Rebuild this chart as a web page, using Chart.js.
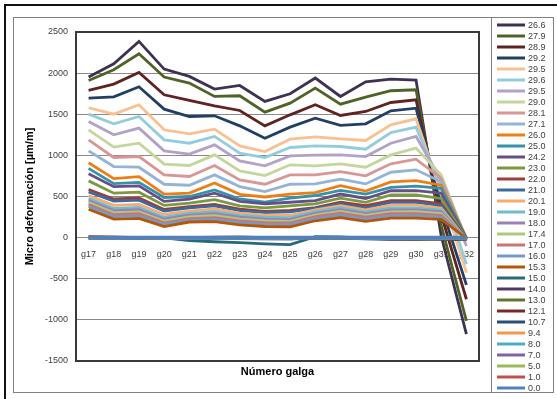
<!DOCTYPE html>
<html>
<head>
<meta charset="utf-8">
<script src="https://cdn.jsdelivr.net/npm/chart.js@4/dist/chart.umd.min.js"></script>
<style>
  html, body { margin: 0; padding: 0; background: #fff; }
  canvas { display: block; }
</style>
</head>
<body>
<canvas id="c" width="557" height="399"></canvas>
<script>
// Strain gauges along the beam
const gauges = ['g17','g18','g19','g20','g21','g22','g23','g24','g25','g26','g27','g28','g29','g30','g31','g32'];

// Load steps (in loading order)
const loads = ['0.0','1.0','5.0','7.0','8.0','9.4','10.7','12.1','13.0','14.0','15.0','15.3','16.0','17.0','17.4','18.0',
               '19.0','20.1','21.0','22.0','23.0','24.2','25.0','26.0','27.1','28.1','29.0','29.5','29.6','29.5','29.2','28.9','27.9','26.6'];

// Micro strain per gauge for each load step
const load0_0  = [0,0,0,0,0,0,0,0,0,0,0,0,0,0,0,0];
const load1_0  = [14,8,0,0,0,6,10,0,-4,0,0,0,0,0,0,-6];
const load5_0  = [4,2,0,-2,-4,-2,0,-3,-5,2,2,-2,-4,-4,-3,-10];
const load7_0  = [2,0,-2,-3,-5,-4,-3,-5,-6,0,0,-4,-6,-7,-5,-12];
const load8_0  = [0,-2,-3,-4,-6,-5,-5,-7,-8,0,-1,-5,-8,-9,-7,-14];
const load9_4  = [0,-2,-3,-5,-7,-6,-6,-8,-9,-1,-2,-6,-9,-11,-8,-16];
const load10_7 = [-2,-3,-4,-6,-8,-8,-8,-10,-11,-2,-3,-8,-12,-13,-10,-18];
const load12_1 = [-2,-4,-5,-6,-9,-9,-10,-11,-12,-3,-4,-10,-14,-16,-12,-20];
const load13_0 = [-3,-4,-5,-7,-10,-10,-11,-12,-14,-4,-5,-12,-16,-18,-14,-22];
const load14_0 = [-3,-5,-6,-8,-11,-12,-12,-14,-15,-5,-6,-14,-20,-22,-16,-25];
const load15_0 = [0,0,0,-3,-35,-50,-60,-75,-85,12,8,-5,-10,-15,-10,-28];
const load15_3 = [345,225,235,135,190,195,155,135,130,205,243,198,237,237,222,-10];
const load16_0 = [378,255,265,160,212,222,182,162,158,232,272,226,268,268,250,-14];
const load17_0 = [402,278,290,180,232,244,204,182,178,254,296,248,292,292,270,-18];
const load17_4 = [428,302,314,202,252,266,226,204,198,274,318,270,314,315,292,-16];
const load18_0 = [452,328,340,225,272,290,248,226,220,294,340,292,338,338,312,-20];
const load19_0 = [478,354,366,248,294,316,270,248,244,316,364,314,362,362,334,-22];
const load20_1 = [512,392,404,282,322,348,298,274,272,338,388,338,394,394,358,-25];
const load21_0 = [555,445,455,322,362,385,328,305,312,355,410,362,428,428,390,-20];
const load22_0 = [585,470,482,342,378,405,345,320,330,364,432,390,450,450,410,-18];
const load23_0 = [690,540,552,392,420,462,385,362,387,410,480,428,518,518,476,-15];
const load24_2 = [778,620,630,440,468,540,440,412,430,450,530,476,570,572,540,-10];
const load25_0 = [842,656,672,488,500,580,470,432,480,512,575,530,612,625,600,-5];
const load26_0 = [910,718,742,530,542,665,526,494,530,548,632,565,677,693,637,0];
const load27_1 = [1055,864,856,649,637,763,621,560,649,653,710,653,795,824,680,-20];
const load28_1 = [1189,974,986,763,743,877,702,649,763,763,803,751,897,954,720,-25];
const load29_0 = [1311,1100,1148,893,877,1006,812,755,885,872,897,856,1006,1088,760,-30];
const load29_5up   = [1412,1250,1331,1055,1015,1128,933,872,994,1002,1006,986,1148,1230,700,-101];
const load29_6     = [1501,1384,1473,1189,1148,1230,1027,974,1096,1116,1108,1075,1278,1343,620,-324];
const load29_5down = [1579,1501,1615,1311,1262,1319,1116,1047,1197,1226,1201,1181,1372,1445,540,-425];
const load29_2 = [1696,1712,1834,1562,1473,1481,1359,1209,1343,1453,1364,1384,1542,1574,380,-575];
const load28_9 = [1790,1867,2009,1737,1668,1603,1546,1359,1493,1615,1485,1534,1643,1676,280,-749];
const load27_9 = [1911,2041,2236,1952,1879,1717,1725,1526,1635,1818,1623,1708,1786,1798,150,-1012];
const load26_6 = [1952,2114,2386,2049,1960,1806,1850,1656,1749,1940,1716,1895,1928,1915,20,-1174];

// Y axis range
const yMin = -1500, yMax = 2500, yStep = 500;

const seriesValues = [load0_0, load1_0, load5_0, load7_0, load8_0, load9_4, load10_7, load12_1, load13_0, load14_0,
  load15_0, load15_3, load16_0, load17_0, load17_4, load18_0, load19_0, load20_1, load21_0, load22_0, load23_0,
  load24_2, load25_0, load26_0, load27_1, load28_1, load29_0, load29_5up, load29_6, load29_5down, load29_2,
  load28_9, load27_9, load26_6];

// Office-style line palette
const palette = ['#4F81BD','#C0504D','#9BBB59','#8064A2','#4BACC6','#F79646',
  '#2C4D75','#772C2A','#5F7530','#4D3B62','#276A7C','#B65708',
  '#729ACA','#CD7371','#AFC97A','#9983B5','#6FBDD1','#F9AB6B',
  '#3B6AA0','#9D3D3A','#7A9A3E','#654F86','#3592AB','#F07D14',
  '#95B3D7','#D99694','#C3D69B','#B3A2C7','#93CDDD','#FAC090',
  '#223F63','#612322','#4F6228','#3F3151'];

const datasets = seriesValues.map((vals, i) => ({
  label: loads[i],
  data: vals,
  borderColor: palette[i],
  backgroundColor: palette[i],
  borderWidth: i === 0 ? 3.6 : 2.8,
  pointRadius: 0,
  tension: 0,
  fill: false
}));

const FONT = '"Liberation Sans", Arial, sans-serif';

const decor = {
  id: 'decor',
  beforeDraw(chart) {
    const ctx = chart.ctx;
    ctx.save();
    ctx.fillStyle = '#fff';
    ctx.fillRect(0, 0, chart.width, chart.height);
    ctx.restore();
  },
  beforeDatasetsDraw(chart) {
    const {ctx, chartArea: a} = chart;
    ctx.save();
    ctx.strokeStyle = '#3a3a3a';
    ctx.lineWidth = 2;
    ctx.strokeRect(a.left, a.top, a.right - a.left, a.bottom - a.top);
    ctx.restore();
  },
  afterDraw(chart) {
    const {ctx, chartArea: a} = chart;
    ctx.save();
    // outer frame (left/top)
    ctx.strokeStyle = '#111';
    ctx.lineWidth = 2;
    ctx.beginPath();
    ctx.moveTo(5, 399); ctx.lineTo(5, 5); ctx.lineTo(557, 5);
    ctx.stroke();
    // chart area box
    ctx.strokeStyle = '#808080';
    ctx.lineWidth = 1;
    ctx.strokeRect(13.5, 17.5, 540, 375);
    // legend box
    ctx.strokeRect(491.5, 17.5, 62, 375);

    // legend entries, last series first
    const ds = chart.data.datasets;
    ctx.font = '9px ' + FONT;
    ctx.textBaseline = 'middle';
    ctx.textAlign = 'left';
    for (let k = 0; k < ds.length; k++) {
      const d = ds[ds.length - 1 - k];
      const y = 25 + 11 * k;
      ctx.strokeStyle = d.borderColor;
      ctx.lineWidth = 3;
      ctx.beginPath();
      ctx.moveTo(497, y); ctx.lineTo(525, y);
      ctx.stroke();
      ctx.fillStyle = '#404040';
      ctx.fillText(d.label, 528, y + 0.5);
    }

    // x axis title
    ctx.font = 'bold 11px ' + FONT;
    ctx.fillStyle = '#000';
    ctx.textAlign = 'center';
    ctx.textBaseline = 'middle';
    ctx.fillText('Número galga', (a.left + a.right) / 2, 372);
    ctx.restore();
  }
};

new Chart(document.getElementById('c'), {
  type: 'line',
  data: { labels: gauges, datasets },
  options: {
    responsive: false,
    animation: false,
    devicePixelRatio: 1,
    layout: { padding: { left: 0, top: 32, right: 78, bottom: 38 } },
    plugins: {
      legend: { display: false },
      tooltip: { enabled: false }
    },
    scales: {
      x: {
        type: 'category',
        position: { y: 0 },
        offset: true,
        grid: { display: false },
        border: { display: false },
        ticks: {
          autoSkip: false, maxRotation: 0, padding: 3,
          color: '#404040', font: { family: FONT, size: 9 }
        }
      },
      y: {
        min: yMin, max: yMax,
        grid: { color: '#8a8a8a', lineWidth: 1, drawTicks: false },
        border: { display: false },
        ticks: {
          stepSize: yStep, padding: 8,
          color: '#404040', font: { family: FONT, size: 9 },
          callback: (v) => String(v)
        },
        title: {
          display: true,
          text: 'Micro deformación [µm/m]',
          color: '#000',
          font: { family: FONT, size: 11, weight: 'bold' },
          padding: { top: 23, bottom: 0 }
        },
        afterFit(scale) { scale.width = 76; }
      }
    }
  },
  plugins: [decor]
});
</script>
</body>
</html>
